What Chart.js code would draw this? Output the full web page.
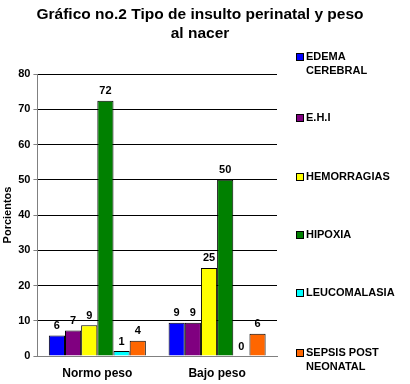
<!DOCTYPE html>
<html>
<head>
<meta charset="utf-8">
<script src="https://cdn.jsdelivr.net/npm/chart.js@4/dist/chart.umd.min.js"></script>
<style>
  html, body { margin: 0; padding: 0; background: #fff; }
  #wrap { position: relative; width: 410px; height: 384px; }
</style>
</head>
<body>
<div id="wrap"><canvas id="grafico"></canvas></div>
<script>
// Datos del gráfico
const categorias = ['Normo peso', 'Bajo peso'];
const series = ['EDEMA CEREBRAL', 'E.H.I', 'HEMORRAGIAS', 'HIPOXIA', 'LEUCOMALASIA', 'SEPSIS POST NEONATAL'];
const edema = [5.8, 9.4];
const ehi = [7.2, 9.4];
const hemorragias = [8.7, 25];
const hipoxia = [72.4, 50];
const leucomalasia = [1.4, 0];
const sepsis = [4.3, 6.3];
const etiquetas = [[6, 9], [7, 9], [9, 25], [72, 50], [1, 0], [4, 6]];
const yTicks = [0, 10, 20, 30, 40, 50, 60, 70, 80];
const titulo = ['Gráfico no.2 Tipo de insulto perinatal y peso', 'al nacer'];

const colores = ['#0000FF', '#800080', '#FFFF00', '#008000', '#00FFFF', '#FF6600'];
const leyendaLineas = [['EDEMA', 'CEREBRAL'], ['E.H.I'], ['HEMORRAGIAS'], ['HIPOXIA'], ['LEUCOMALASIA'], ['SEPSIS POST', 'NEONATAL']];
const leyendaY = [57, 118, 177, 235, 293, 353];

const valores = [edema, ehi, hemorragias, hipoxia, leucomalasia, sepsis];
const FUENTE = '"Liberation Sans", Arial, sans-serif';

// etiquetas de valor encima de cada barra
const etiquetasPlugin = {
    id: 'etiquetas',
    afterDatasetsDraw(chart) {
        const c = chart.ctx;
        c.save();
        c.font = 'bold 11px ' + FUENTE;
        c.fillStyle = '#000';
        c.textAlign = 'center';
        c.textBaseline = 'bottom';
        chart.data.datasets.forEach((ds, i) => {
            chart.getDatasetMeta(i).data.forEach((bar, j) => {
                c.fillText(String(etiquetas[i][j]), bar.x, bar.y - 4);
            });
        });
        c.restore();
    }
};

// título y leyenda a la derecha (texto en dos líneas)
const leyendaPlugin = {
    id: 'leyenda',
    afterDraw(chart) {
        const c = chart.ctx;
        c.save();
        c.fillStyle = '#000';
        c.textAlign = 'center';
        c.textBaseline = 'middle';
        c.font = 'bold 15.5px ' + FUENTE;
        titulo.forEach((t, k) => c.fillText(t, 200, 15 + k * 19));

        c.font = 'bold 11px ' + FUENTE;
        c.textAlign = 'left';
        leyendaLineas.forEach((lineas, i) => {
            const y = leyendaY[i];
            c.fillStyle = colores[i];
            c.fillRect(297, y - 3, 6, 6);
            c.strokeStyle = '#000';
            c.lineWidth = 1;
            c.strokeRect(296.5, y - 3.5, 7, 7);
            c.fillStyle = '#000';
            lineas.forEach((t, k) => c.fillText(t, 306, y + k * 13.5));
        });
        c.restore();
    }
};

const ctx = document.getElementById('grafico').getContext('2d');
new Chart(ctx, {
    type: 'bar',
    data: {
        labels: categorias,
        datasets: series.map((s, i) => ({
            label: s,
            data: valores[i],
            backgroundColor: colores[i],
            borderColor: '#000',
            borderWidth: 1,
            borderSkipped: 'bottom',
            barPercentage: 1,
            categoryPercentage: 0.81
        }))
    },
    plugins: [etiquetasPlugin, leyendaPlugin],
    options: {
        responsive: true,
        maintainAspectRatio: false,
        animation: false,
        layout: { padding: { left: 0, right: 133, top: 74, bottom: 0 } },
        scales: {
            x: {
                grid: { display: false, drawTicks: false },
                border: { color: '#808080' },
                ticks: { color: '#000', font: { family: FUENTE, size: 12, weight: 'bold' }, padding: 10 },
                afterFit(axis) { axis.height = 28; }
            },
            y: {
                min: 0,
                max: 80,
                afterBuildTicks(axis) { axis.ticks = yTicks.map(v => ({ value: v })); },
                grid: { color: '#000', tickLength: 4, tickColor: '#808080' },
                border: { color: '#808080' },
                ticks: { color: '#000', font: { family: FUENTE, size: 11, weight: 'bold' }, padding: 3 },
                title: { display: true, text: 'Porcientos', color: '#000', font: { family: FUENTE, size: 11, weight: 'bold' }, padding: 1 }
            }
        },
        plugins: {
            legend: { display: false },
            tooltip: { enabled: false },
            title: { display: false }
        }
    }
});
</script>
</body>
</html>
